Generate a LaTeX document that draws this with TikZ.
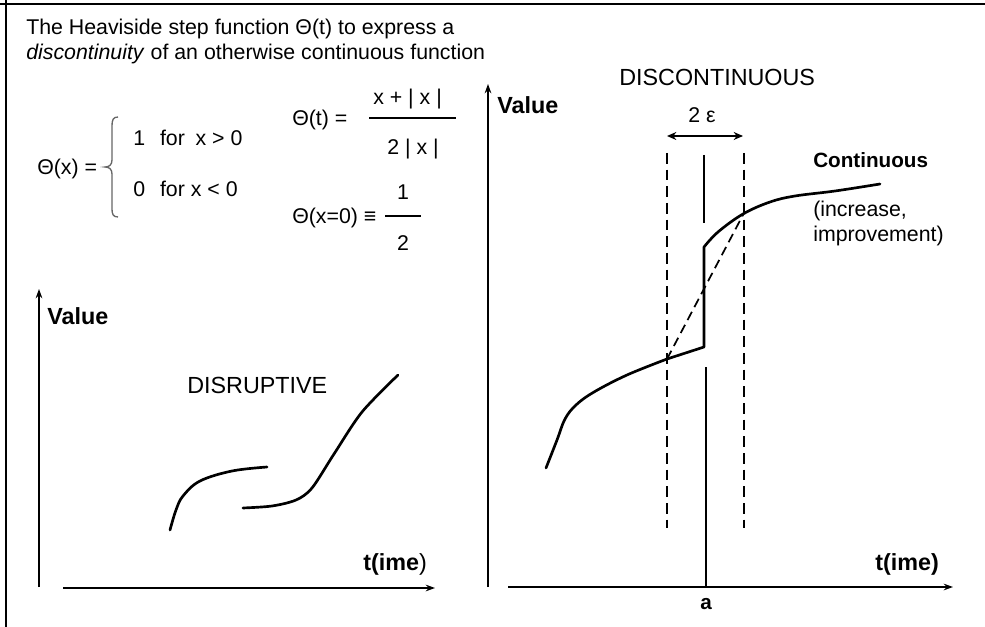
\documentclass[tikz,border=0pt]{standalone}
\usepackage{fontspec}
\setmainfont{Liberation Sans}
\usetikzlibrary{arrows.meta}

\begin{document}
\begin{tikzpicture}[x=0.75pt,y=-0.75pt]
  \path[use as bounding box] (0,0) rectangle (985,627);
  \fill[white] (0,0) rectangle (985,627);

  \tikzset{txt/.style={font=\fontsize{16}{18.75}\selectfont,inner sep=0pt,anchor=base west},
    big/.style={font=\fontsize{17.5}{20}\selectfont,inner sep=0pt,anchor=base west},
    axlbl/.style={font=\fontsize{17.5}{20}\selectfont\bfseries,inner sep=0pt,anchor=base west},
    axis/.style={-{Stealth[length=7pt,width=5pt]},line width=1.1pt},
    curve/.style={line width=2pt,line cap=round,line join=round},
    guide/.style={line width=1.3pt,dash pattern=on 8pt off 4.5pt}}

  % frame
  \draw[line width=2pt] (0,4) -- (985,4);
  \draw[line width=2pt] (6,0) -- (6,627);

  % heading
  \node[txt] (title1) at (26,35) {The Heaviside step function Θ(t) to express a};
  \node[txt] (title2) at (26,60) {\textit{discontinuity} of an otherwise continuous function};

  % step function definition
  \node[txt] (thetax) at (37,175) {Θ(x) =};
  \draw[black!60,line width=1pt] (118,117) .. controls (113,117) and (112,120) .. (112,126)
    -- (112,160) .. controls (112,165) and (109,167) .. (105,167)
    .. controls (109,167) and (112,169) .. (112,174) -- (112,209)
    .. controls (112,214) and (113,217) .. (118,217);
  \node[txt] (caseone) at (133,146) {1\hspace{0.7em}for\hspace{0.5em}x > 0};
  \node[txt] (casezero) at (133,197) {0\hspace{0.7em}for x < 0};

  \node[txt] (thetat) at (292,126) {Θ(t) =};
  \node[txt] (numer) at (373,105) {x + | x |};
  \draw[line width=1pt] (369,118) -- (456,118);
  \node[txt] (denom) at (387,155) {2 | x |};

  \node[txt] (thetazero) at (292,224) {Θ(x=0) ≡};
  \node[txt,anchor=base] (half1) at (403,200) {1};
  \draw[line width=1pt] (385,216) -- (421,216);
  \node[txt,anchor=base] (half2) at (403,251) {2};

  % left graph
  \coordinate (lorig) at (39,587);
  \coordinate (ltop) at (39,289);
  \coordinate (lxa) at (63,588);
  \coordinate (lxb) at (435,588);
  \draw[axis] (lorig) -- (ltop);
  \draw[axis] (lxa) -- (lxb);
  \node[axlbl] (lvalue) at (47,325) {Value};
  \node[big] (disrupt) at (187,393) {DISRUPTIVE};
  \node[axlbl] (ltime) at (363,570) {\textbf{t(ime}\mdseries)};
  \draw[curve] plot[smooth,tension=0.6] coordinates
    {(170,530) (176,510) (183,496) (200,481) (232,471) (267,467)};
  \draw[curve] plot[smooth,tension=0.5] coordinates
    {(243,508) (272,506) (296,500) (312,488) (334,454) (362,412) (398,375)};

  % right graph
  \coordinate (rorig) at (488,587);
  \coordinate (rtop) at (488,84);
  \coordinate (rxa) at (508,587);
  \coordinate (rxb) at (953,587);
  \draw[axis] (rorig) -- (rtop);
  \draw[axis] (rxa) -- (rxb);
  \node[axlbl] (rvalue) at (497,114) {Value};
  \node[big] (discont) at (619,86) {DISCONTINUOUS};
  \node[txt] (eps) at (688,123) {2 ε};
  \node[axlbl] (rtime) at (875,570) {t(ime)};
  \node[txt,font=\fontsize{15.5}{18}\selectfont\bfseries,anchor=base] (apos) at (706,609) {a};

  \coordinate (epsl) at (667,136);
  \coordinate (epsr) at (743,136);
  \draw[{Stealth[length=7pt,width=6pt]}-{Stealth[length=7pt,width=6pt]},line width=1.1pt] (epsl) -- (epsr);

  \draw[guide] (667,153) -- (667,528);
  \draw[guide] (744,153) -- (744,528);
  \draw[line width=1.1pt] (704,155) -- (704,223);
  \draw[line width=1.1pt] (706,367) -- (706,587);

  \draw[curve] plot[smooth,tension=0.6] coordinates
    {(546,468) (557,440) (565,419) (576,405) (594,392) (627,375) (667,359)}
    -- (704,347) -- (704,247)
    -- plot[smooth,tension=0.6] coordinates
    {(704,247) (718,232) (743,214) (770,202) (795,196) (835,191) (880,184)};
  \draw[line width=1.3pt,dash pattern=on 7pt off 4pt] (667,359) -- (744,213);

  \node[txt,font=\fontsize{15.5}{18}\selectfont\bfseries] (cont) at (813,168) {Continuous};
  \node[txt] (incr) at (813,217) {(increase,};
  \node[txt] (impr) at (813,242) {improvement)};
\end{tikzpicture}
\end{document}
